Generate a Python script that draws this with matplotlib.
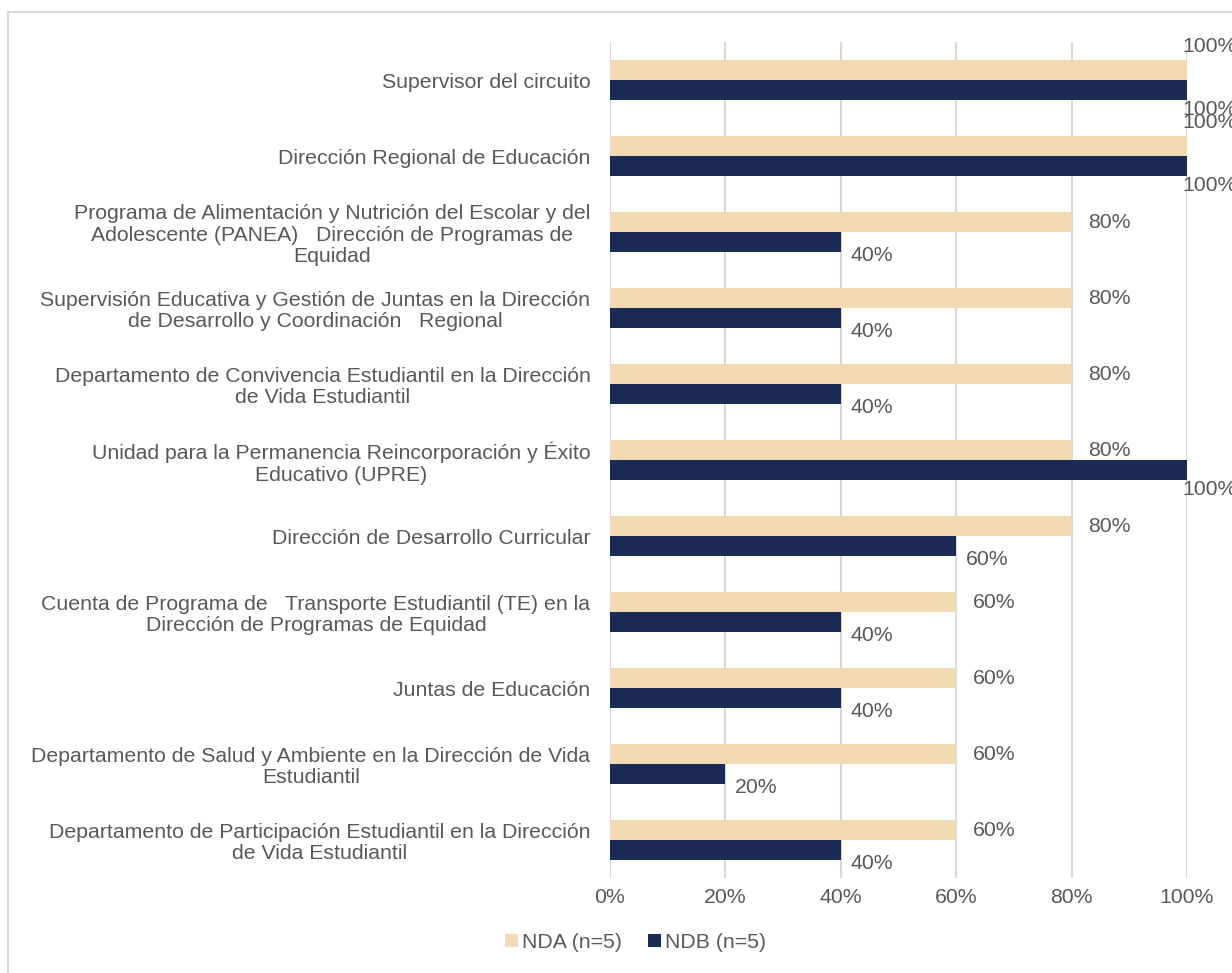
import numpy as np
import matplotlib
matplotlib.use('Agg')
import matplotlib.pyplot as plt
from matplotlib.patches import Rectangle

categories = [
    'Supervisor del circuito',
    'Dirección Regional de Educación',
    'Programa de Alimentación y Nutrición del Escolar y del\nAdolescente (PANEA)   Dirección de Programas de\nEquidad',
    'Supervisión Educativa y Gestión de Juntas en la Dirección\nde Desarrollo y Coordinación   Regional',
    'Departamento de Convivencia Estudiantil en la Dirección\nde Vida Estudiantil',
    'Unidad para la Permanencia Reincorporación y Éxito\nEducativo (UPRE)',
    'Dirección de Desarrollo Curricular',
    'Cuenta de Programa de   Transporte Estudiantil (TE) en la\nDirección de Programas de Equidad',
    'Juntas de Educación',
    'Departamento de Salud y Ambiente en la Dirección de Vida\nEstudiantil',
    'Departamento de Participación Estudiantil en la Dirección\nde Vida Estudiantil',
]
nda = [100, 100, 80, 80, 80, 80, 80, 60, 60, 60, 60]
ndb = [100, 100, 40, 40, 40, 100, 60, 40, 40, 20, 40]
series_names = ['NDA (n=5)', 'NDB (n=5)']
xticks = [0, 20, 40, 60, 80, 100]

beige = '#F2DBB2'
navy = '#1B2A52'
grey_text = '#595959'
grid_col = '#D9D9D9'
fs = 15.3

plt.rcParams['font.family'] = ['Liberation Sans', 'DejaVu Sans']
plt.rcParams['font.size'] = fs

fig = plt.figure(figsize=(12.32, 9.73), dpi=100)
ax = fig.add_axes([0.495, 0.0976, 0.4685, 0.8592])

y = np.arange(len(categories))
h = 0.263
ax.barh(y - h / 2, nda, height=h, color=beige, label=series_names[0], zorder=2)
ax.barh(y + h / 2, ndb, height=h, color=navy, label=series_names[1], zorder=2)

# data labels, placed roughly like the Excel original
for yi, v in zip(y, nda):
    if v >= 100:
        ax.annotate(f'{v}%', (v, yi - h / 2), xytext=(-3, 10), textcoords='offset points',
                    ha='left', va='bottom', color=grey_text, fontsize=fs)
    else:
        ax.annotate(f'{v}%', (v, yi - h / 2), xytext=(12, 0), textcoords='offset points',
                    ha='left', va='center', color=grey_text, fontsize=fs)
for yi, v in zip(y, ndb):
    if v >= 100:
        ax.annotate(f'{v}%', (v, yi + h / 2), xytext=(-3, -14), textcoords='offset points',
                    ha='left', va='center', color=grey_text, fontsize=fs)
    else:
        ax.annotate(f'{v}%', (v, yi + h / 2), xytext=(7, -10), textcoords='offset points',
                    ha='left', va='center', color=grey_text, fontsize=fs)

ax.set_xlim(0, 100)
ax.set_ylim(len(categories) - 0.5, -0.5)
ax.set_xticks(xticks)
ax.set_xticklabels([f'{t}%' for t in xticks])
ax.set_yticks(y)
ax.set_yticklabels(categories, multialignment='center', linespacing=1.15)
ax.tick_params(axis='both', length=0, colors=grey_text, labelsize=fs)
ax.tick_params(axis='y', pad=14)
ax.tick_params(axis='x', pad=7)
ax.grid(axis='x', color=grid_col, linewidth=1.5, zorder=0)
for s in ax.spines.values():
    s.set_visible(False)

fig.legend(loc='lower center', bbox_to_anchor=(0.516, 0.002), ncol=2, frameon=False,
           handlelength=0.6, handleheight=0.6, handletextpad=0.2, columnspacing=1.2,
           labelcolor=grey_text, fontsize=fs)

fig.patches.append(Rectangle((0.0065, -0.02), 1.1, 1.0077, transform=fig.transFigure,
                             fill=False, edgecolor=grid_col, linewidth=1.5))

fig.savefig('out.png', dpi=100)
